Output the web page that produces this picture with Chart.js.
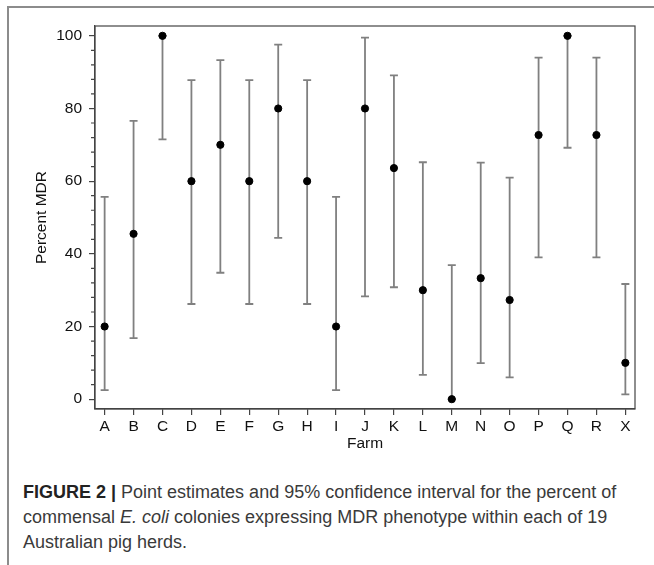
<!DOCTYPE html>
<html lang="en">
<head>
  <meta charset="UTF-8">
  <title>Percent MDR by farm</title>
  <script src="https://cdn.jsdelivr.net/npm/chart.js"></script>
  <style>
    body { margin: 0; background: #fff; }
    #page { position: relative; width: 654px; height: 565px; overflow: hidden; }
    #frameTop { position: absolute; left: 7px; top: 6px; width: 647px; height: 2px; background: #8c8c8c; }
    #frameLeft { position: absolute; left: 7px; top: 6px; width: 2px; height: 559px; background: #8c8c8c; }
    #chartBox { position: absolute; left: 0; top: 0; width: 654px; height: 460px; }
    #caption {
      position: absolute; left: 23px; top: 480px;
      font-family: "Liberation Sans", Arial, sans-serif; font-size: 18px; line-height: 25px;
      color: #3a3a3a; white-space: nowrap;
    }
    #caption b { color: #222; }
  </style>
</head>
<body>
  <div id="page">
    <div id="frameTop"></div>
    <div id="frameLeft"></div>
    <div id="chartBox"><canvas id="mdrChart"></canvas></div>
    <div id="caption">
      <b>FIGURE 2 |</b> Point estimates and 95% confidence interval for the percent of<br>
      commensal <i>E. coli</i> colonies expressing MDR phenotype within each of 19<br>
      Australian pig herds.
    </div>
  </div>

  <script>
    // data
    const farms = ['A', 'B', 'C', 'D', 'E', 'F', 'G', 'H', 'I', 'J', 'K', 'L', 'M', 'N', 'O', 'P', 'Q', 'R', 'X'];
    const pointEst = [20, 45.5, 100, 60, 70, 60, 80, 60, 20, 80, 63.6, 30, 0, 33.3, 27.3, 72.7, 100, 72.7, 10];
    const lowerCI  = [2.5, 16.8, 71.5, 26.2, 34.8, 26.2, 44.4, 26.2, 2.5, 28.3, 30.8, 6.7, 0, 9.9, 6.0, 39.0, 69.2, 39.0, 1.3];
    const upperCI  = [55.7, 76.6, 100, 87.8, 93.3, 87.8, 97.6, 87.8, 55.7, 99.5, 89.1, 65.2, 36.9, 65.1, 61.0, 94.0, 100, 94.0, 31.7];
    const yMajorTicks = [0, 20, 40, 60, 80, 100];
    const yMinorTicks = [4, 8, 12, 16, 24, 28, 32, 36, 44, 48, 52, 56, 64, 68, 72, 76, 84, 88, 92, 96];

    const axisColor = '#444';
    const barColor = '#808080';
    const labelFont = { family: 'Liberation Sans', size: 15.5 };

    // error bars under the points, plus minor ticks and the box around the plot
    const errorBars = {
      id: 'errorBars',
      beforeDatasetsDraw(chart) {
        const ctx = chart.ctx, xs = chart.scales.x, ys = chart.scales.y;
        ctx.save();
        ctx.strokeStyle = barColor;
        ctx.lineWidth = 1.8;
        for (let i = 0; i < farms.length; i++) {
          const x = xs.getPixelForValue(i);
          const yl = ys.getPixelForValue(lowerCI[i]);
          const yu = ys.getPixelForValue(upperCI[i]);
          ctx.beginPath();
          ctx.moveTo(x, yl); ctx.lineTo(x, yu);
          ctx.moveTo(x - 4, yl); ctx.lineTo(x + 4, yl);
          ctx.moveTo(x - 4, yu); ctx.lineTo(x + 4, yu);
          ctx.stroke();
        }
        ctx.restore();
      },
      afterDraw(chart) {
        const ctx = chart.ctx, ys = chart.scales.y, a = chart.chartArea;
        ctx.save();
        ctx.strokeStyle = axisColor;
        ctx.lineWidth = 1.2;
        ctx.strokeRect(a.left, a.top, a.right - a.left, a.bottom - a.top);
        ctx.beginPath();
        yMinorTicks.forEach(v => {
          const y = ys.getPixelForValue(v);
          ctx.moveTo(a.left - 4, y); ctx.lineTo(a.left, y);
        });
        ctx.stroke();
        ctx.restore();
      }
    };

    new Chart(document.getElementById('mdrChart'), {
      type: 'scatter',
      data: {
        datasets: [{
          label: 'Percent MDR',
          data: pointEst.map((v, i) => ({ x: i, y: v })),
          backgroundColor: '#000',
          borderColor: '#000',
          pointRadius: 3.6,
          pointHoverRadius: 3.6
        }]
      },
      options: {
        responsive: true,
        maintainAspectRatio: false,
        animation: false,
        layout: { padding: { left: 0, top: 26, right: 19, bottom: 0 } },
        plugins: { legend: { display: false }, tooltip: { enabled: false } },
        scales: {
          x: {
            type: 'linear',
            min: -0.333,
            max: 18.333,
            afterBuildTicks: s => { s.ticks = farms.map((f, i) => ({ value: i })); },
            afterFit: s => { s.height = 51; },
            ticks: {
              callback: v => farms[v],
              font: labelFont,
              color: '#111',
              padding: 2,
              maxRotation: 0,
              autoSkip: false
            },
            grid: { drawOnChartArea: false, drawTicks: true, tickLength: 6, color: axisColor, lineWidth: 1.2 },
            border: { display: true, color: axisColor, width: 1.2 },
            title: {
              display: true, text: 'Farm', color: '#111',
              font: labelFont,
              padding: { top: 0, bottom: 6.5 }
            }
          },
          y: {
            min: -2.7,
            max: 102.7,
            afterBuildTicks: s => { s.ticks = yMajorTicks.map(v => ({ value: v })); },
            afterFit: s => { s.width = 95; },
            ticks: {
              font: labelFont,
              color: '#111',
              padding: 7
            },
            grid: { drawOnChartArea: false, drawTicks: true, tickLength: 6, color: axisColor, lineWidth: 1.2 },
            border: { display: true, color: axisColor, width: 1.2 },
            title: {
              display: true, text: 'Percent MDR', color: '#111',
              font: labelFont,
              padding: { top: 32, bottom: 0 }
            }
          }
        }
      },
      plugins: [errorBars]
    });
  </script>
</body>
</html>
